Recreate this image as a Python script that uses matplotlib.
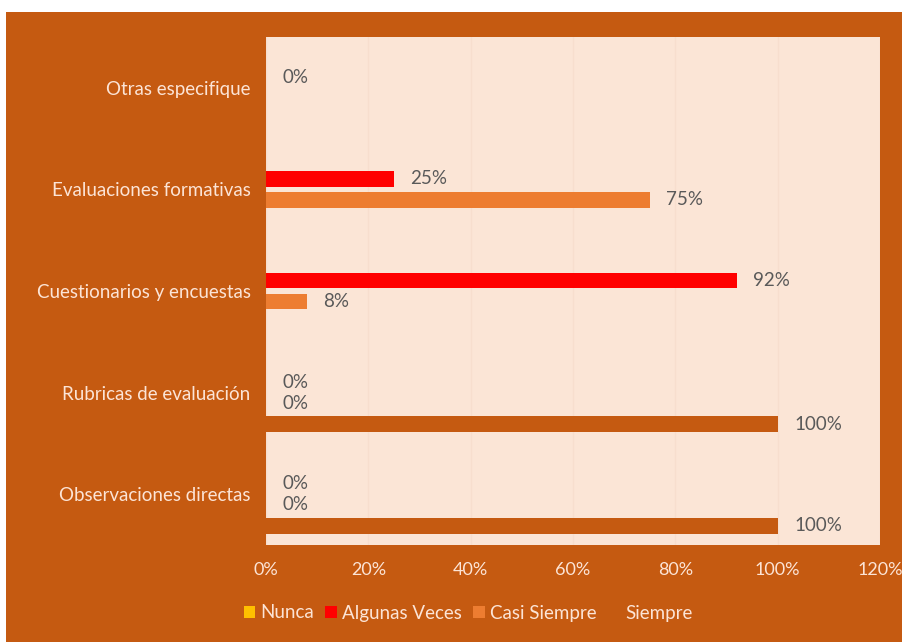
import numpy as np
import matplotlib.pyplot as plt
from matplotlib.patches import Rectangle

# categories, bottom to top
categorias = ['Observaciones directas', 'Rubricas de evaluación',
              'Cuestionarios y encuestas', 'Evaluaciones formativas',
              'Otras especifique']
series = ['Nunca', 'Algunas Veces', 'Casi Siempre', 'Siempre']
nunca = [np.nan, np.nan, np.nan, np.nan, np.nan]
algunas = [0.0, 0.0, 0.92, 0.25, 0.0]
casi = [0.0, 0.0, 0.08, 0.75, np.nan]
siempre = [1.0, 1.0, np.nan, np.nan, np.nan]
valores = [nunca, algunas, casi, siempre]
xticks = [0, 0.2, 0.4, 0.6, 0.8, 1.0, 1.2]

colores = ['#FFC000', '#FF0000', '#ED7D31', '#C55A11']
fondo = '#C55A11'
area = '#FBE5D6'
claro = '#FCE4D6'
gris = '#595959'

plt.rcParams['font.family'] = ['Lato', 'DejaVu Sans']
fs = 13.5

fig = plt.figure(figsize=(9.02, 6.42), dpi=100, facecolor='white')
# orange chart area, leaving a thin white margin top and left
fig.add_artist(Rectangle((6/902, 0), 1, 1 - 12/642, transform=fig.transFigure,
                         facecolor=fondo, edgecolor='none', zorder=-1))
ax = fig.add_axes([266/902, 97/642, 614/902, 508/642])
ax.set_facecolor(area)

y = np.arange(len(categorias))
paso = 0.207
alto = 0.153
for j, (nombre, vals) in enumerate(zip(series, valores)):
    pos = y + (1.5 - j)*paso
    v = np.array(vals, dtype=float)
    ax.barh(pos, np.nan_to_num(v), height=alto, color=colores[j], label=nombre, zorder=2)
    for p, val in zip(pos, v):
        if np.isnan(val):
            continue
        ax.annotate(f'{round(val*100)}%', (val, p), xytext=(12, 0),
                    textcoords='offset points', va='center', ha='left',
                    color=gris, fontsize=fs)

ax.set_xlim(0, 1.2)
ax.set_ylim(-0.5, len(categorias) - 0.5)
ax.set_xticks(xticks)
ax.set_xticklabels([f'{round(t*100)}%' for t in xticks], color=claro, fontsize=13)
ax.set_yticks(y)
ax.set_yticklabels(categorias, color=claro, fontsize=fs)
ax.tick_params(axis='y', length=0, pad=11)
ax.tick_params(axis='x', length=0, pad=12)
ax.grid(axis='x', color='#F7DECE', linewidth=1, zorder=1)
for s in ax.spines.values():
    s.set_visible(False)

fig.legend(loc='center', bbox_to_anchor=(468/902, 29/642), ncol=4, frameon=False,
           fontsize=fs, labelcolor=claro, handlelength=0.6, handleheight=0.6,
           handletextpad=0.3, columnspacing=0.6, borderaxespad=0)

fig.savefig('out.png', dpi=100, facecolor=fig.get_facecolor())
